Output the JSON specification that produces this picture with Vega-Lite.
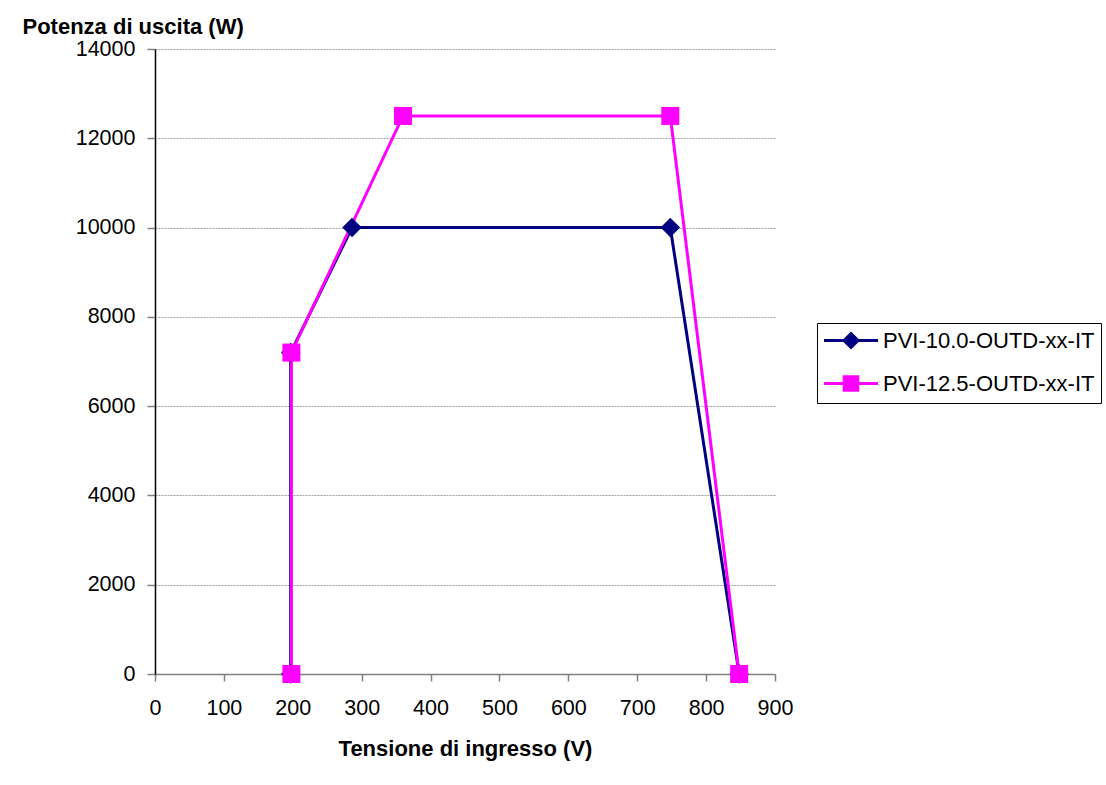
{
  "$schema": "https://vega.github.io/schema/vega-lite/v6.json",
  "width": 620,
  "height": 625,
  "autosize": {"type": "none"},
  "padding": {"left": 155, "top": 49, "right": 331, "bottom": 111},
  "background": "white",
  "config": {
    "view": {"stroke": null},
    "font": "Liberation Sans",
    "axis": {
      "labelFont": "Liberation Sans",
      "labelFontSize": 21.5,
      "labelColor": "black",
      "titleFont": "Liberation Sans",
      "titleFontSize": 22,
      "titleFontWeight": "bold",
      "titleColor": "black"
    }
  },
  "data": {
    "values": [
      {"series": "PVI-10.0-OUTD-xx-IT", "i": 1, "v": 197, "p": 0},
      {"series": "PVI-10.0-OUTD-xx-IT", "i": 2, "v": 197, "p": 7200},
      {"series": "PVI-10.0-OUTD-xx-IT", "i": 3, "v": 286, "p": 10000},
      {"series": "PVI-10.0-OUTD-xx-IT", "i": 4, "v": 748, "p": 10000},
      {"series": "PVI-10.0-OUTD-xx-IT", "i": 5, "v": 848, "p": 0},
      {"series": "PVI-12.5-OUTD-xx-IT", "i": 1, "v": 198, "p": 0},
      {"series": "PVI-12.5-OUTD-xx-IT", "i": 2, "v": 198, "p": 7200},
      {"series": "PVI-12.5-OUTD-xx-IT", "i": 3, "v": 360, "p": 12500},
      {"series": "PVI-12.5-OUTD-xx-IT", "i": 4, "v": 748, "p": 12500},
      {"series": "PVI-12.5-OUTD-xx-IT", "i": 5, "v": 848, "p": 0}
    ]
  },
  "encoding": {
    "x": {
      "field": "v",
      "type": "quantitative",
      "scale": {"domain": [0, 900], "nice": false, "zero": false},
      "axis": {
        "values": [0, 100, 200, 300, 400, 500, 600, 700, 800, 900],
        "format": "d",
        "grid": false,
        "domainColor": "#808080",
        "domainWidth": 1.5,
        "tickColor": "#808080",
        "tickSize": 7,
        "tickWidth": 1.5,
        "labelPadding": 16,
        "labelFlush": false,
        "title": "Tensione di ingresso (V)",
        "titleBaseline": "alphabetic",
        "titleY": 81
      }
    },
    "y": {
      "field": "p",
      "type": "quantitative",
      "scale": {"domain": [0, 14000], "nice": false},
      "axis": {
        "values": [0, 2000, 4000, 6000, 8000, 10000, 12000, 14000],
        "format": "d",
        "grid": true,
        "gridColor": "#a0a0a0",
        "gridDash": [2, 1],
        "gridWidth": 1,
        "domainColor": "black",
        "domainWidth": 1.5,
        "tickColor": "#808080",
        "tickSize": 8,
        "tickWidth": 1.5,
        "labelPadding": 12,
        "labelFlush": false,
        "title": "Potenza di uscita (W)",
        "titleAngle": 0,
        "titleAlign": "left",
        "titleBaseline": "alphabetic",
        "titleX": -133,
        "titleY": -16
      }
    },
    "color": {
      "field": "series",
      "type": "nominal",
      "scale": {
        "domain": ["PVI-10.0-OUTD-xx-IT", "PVI-12.5-OUTD-xx-IT"],
        "range": ["#000080", "#FF00FF"]
      },
      "legend": {
        "title": null,
        "orient": "none",
        "legendX": 662,
        "legendY": 274,
        "strokeColor": "black",
        "fillColor": "white",
        "padding": 6,
        "rowPadding": 16,
        "labelFont": "Liberation Sans",
        "labelFontSize": 22,
        "labelColor": "black",
        "labelOffset": 37,
        "labelLimit": 400,
        "symbolSize": 400,
        "symbolStrokeWidth": 3,
        "symbolOpacity": 1
      }
    }
  },
  "layer": [
    {
      "mark": {"type": "line", "strokeWidth": 3},
      "encoding": {"order": {"field": "i", "type": "quantitative"}}
    },
    {
      "transform": [{"filter": "datum.series === 'PVI-10.0-OUTD-xx-IT'"}],
      "mark": {"type": "point", "filled": true, "opacity": 1, "size": 380, "shape": "diamond"}
    },
    {
      "transform": [{"filter": "datum.series === 'PVI-12.5-OUTD-xx-IT'"}],
      "mark": {"type": "point", "filled": true, "opacity": 1, "size": 324, "shape": "square"}
    },
    {
      "transform": [{"filter": "false"}],
      "mark": {"type": "point", "filled": true, "opacity": 1},
      "encoding": {
        "shape": {
          "field": "series",
          "type": "nominal",
          "scale": {
            "domain": ["PVI-10.0-OUTD-xx-IT", "PVI-12.5-OUTD-xx-IT"],
            "range": ["M-1.05,0H4.35M0.95,0L1.65,-0.7L2.35,0L1.65,0.7Z", "M-1.05,0H4.35M0.97,-0.68H2.33V0.68H0.97Z"]
          }
        },
        "stroke": {
          "field": "series",
          "type": "nominal",
          "scale": {
            "domain": ["PVI-10.0-OUTD-xx-IT", "PVI-12.5-OUTD-xx-IT"],
            "range": ["#000080", "#FF00FF"]
          }
        }
      }
    }
  ]
}
